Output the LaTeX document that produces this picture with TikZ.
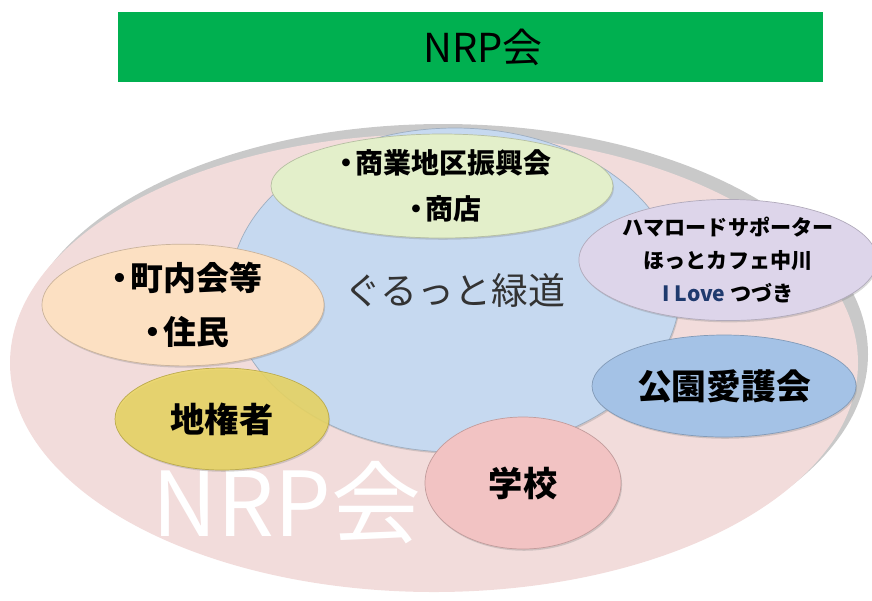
\documentclass[tikz,border=0pt]{standalone}
\usepackage{fontspec}
\setmainfont{Noto Sans CJK JP}
\usetikzlibrary{shapes.geometric,shadows}
\definecolor{bannergreen}{HTML}{00B050}
\definecolor{nrppink}{HTML}{F2DCDB}
\definecolor{rimgray}{HTML}{C9C9C9}
\definecolor{wayblue}{HTML}{C6D9F0}
\definecolor{shopgreen}{HTML}{E3EFCA}
\definecolor{townpeach}{HTML}{FCE0C2}
\definecolor{ownyellow}{HTML}{EAD660}
\definecolor{hamapurple}{HTML}{DDD5EA}
\definecolor{parkblue}{HTML}{A4C2E6}
\definecolor{schoolpink}{HTML}{F2C3C3}
\definecolor{lovenavy}{HTML}{1F3A6E}
\newcommand{\dotmark}{・\kern-0.18em}
\tikzset{
  blob/.style={ellipse, inner sep=0pt, align=center, fill=#1, draw=#1!80!black, line width=0.4pt,
    drop shadow={opacity=0.3, shadow xshift=0.6pt, shadow yshift=-1pt}},
  fs/.style 2 args={font=\fontsize{#1}{#2}\selectfont\bfseries},
}
\begin{document}
\begin{tikzpicture}[x=0.02cm, y=-0.02cm]
  \useasboundingbox (0,0) rectangle (872,600);
  % banner on top
  \node[fill=bannergreen, minimum width=705*0.02cm, minimum height=70*0.02cm, inner sep=0pt, font=\fontsize{22.7}{26}\selectfont] (banner) at (470.5,47) {\hspace*{0.5cm}NRP会};
  % NRP ring with its gray rim
  \node[ellipse, fill=rimgray, minimum width=850*0.02cm, minimum height=460*0.02cm] (rim) at (443,354) {};
  \node[ellipse, fill=nrppink, minimum width=848*0.02cm, minimum height=458*0.02cm] (nrp) at (434,363) {};
  \node[text=white, font=\fontsize{51}{56}\selectfont] (nrplabel) at (287,503) {NRP会};
  % greenway in the middle
  \node[blob=wayblue, minimum width=450*0.02cm, minimum height=324*0.02cm, text=black!80, font=\fontsize{21}{24}\selectfont] (greenway) at (455,290) {ぐるっと緑道};
  % groups round it
  \node[blob=shopgreen, minimum width=342*0.02cm, minimum height=104*0.02cm, fs={15.9}{26}] (shops) at (442,186) {\dotmark 商業地区振興会\\\dotmark 商店};
  \node[blob=townpeach, minimum width=282*0.02cm, minimum height=96*0.02cm, fs={18.7}{31}] (residents) at (183,305) {\dotmark 町内会等\\\dotmark 住民};
  \node[blob=hamapurple, minimum width=290*0.02cm, minimum height=110*0.02cm, fs={12}{18.7}] (supporters) at (728,260) {ハマロードサポーター\\ほっとカフェ中川\\{\color{lovenavy}I Love} つづき};
  \node[blob=parkblue, minimum width=264*0.02cm, minimum height=102*0.02cm, fs={19.8}{24}] (parkclub) at (724,386) {公園愛護会};
  \node[blob=schoolpink, minimum width=196*0.02cm, minimum height=132*0.02cm, fs={19.5}{24}] (school) at (523,483) {学校};
  \node[blob=ownyellow, fill opacity=0.85, text opacity=1, minimum width=214*0.02cm, minimum height=102*0.02cm, fs={19.5}{24}] (owners) at (222,419) {地権者};
\end{tikzpicture}
\end{document}
